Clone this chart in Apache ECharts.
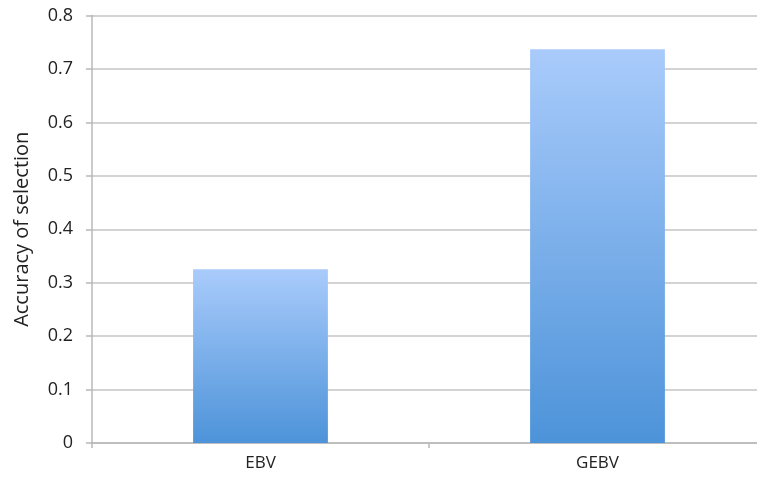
<!DOCTYPE html>
<html><head><meta charset="utf-8">
<script src="https://cdn.jsdelivr.net/npm/echarts@6/dist/echarts.min.js"></script>
<style>html,body{margin:0;padding:0;background:#fff;overflow:hidden}#c{width:757px;height:480px}</style>
</head><body><div id="c"></div>
<script>
const categories = ['EBV', 'GEBV'];
const accuracy = [0.325, 0.737];
const yTicks = [0, 0.1, 0.2, 0.3, 0.4, 0.5, 0.6, 0.7, 0.8];

const chart = echarts.init(document.getElementById('c'), null, {renderer: 'canvas'});
chart.setOption({
  animation: false,
  backgroundColor: '#fff',
  grid: {left: 92, right: -9, top: 15.5, height: 427.5, containLabel: false, outerBoundsMode: 'none'},
  xAxis: {
    type: 'category', data: categories,
    axisLine: {lineStyle: {color: '#b8b8b8', width: 1.5}},
    axisTick: {show: true, length: 5, lineStyle: {color: '#b8b8b8', width: 1.5}},
    axisLabel: {color: '#222', fontSize: 17, fontFamily: 'Open Sans', margin: 12}
  },
  yAxis: {
    type: 'value', min: 0, max: 0.8, interval: 0.1,
    name: 'Accuracy of selection', nameLocation: 'middle', nameGap: 60,
    nameTextStyle: {color: '#222', fontSize: 20, fontFamily: 'Open Sans'},
    axisLine: {show: true, lineStyle: {color: '#b8b8b8', width: 1.5}},
    axisTick: {show: true, length: 6, lineStyle: {color: '#b8b8b8', width: 1.5}},
    splitLine: {lineStyle: {color: '#c4c4c4', width: 1.5}},
    axisLabel: {color: '#222', fontSize: 18, fontFamily: 'Open Sans', margin: 19,
      formatter: v => { const t = yTicks.find(x => Math.abs(x - v) < 1e-9); return t === undefined ? '' : String(+t.toFixed(1)); }}
  },
  series: [{
    type: 'bar', data: accuracy, barWidth: '40%',
    itemStyle: {color: new echarts.graphic.LinearGradient(0, 0, 0, 1, [
      {offset: 0, color: '#a9cbfb'}, {offset: 1, color: '#4d93d9'}])}
  }]
});
</script></body></html>
